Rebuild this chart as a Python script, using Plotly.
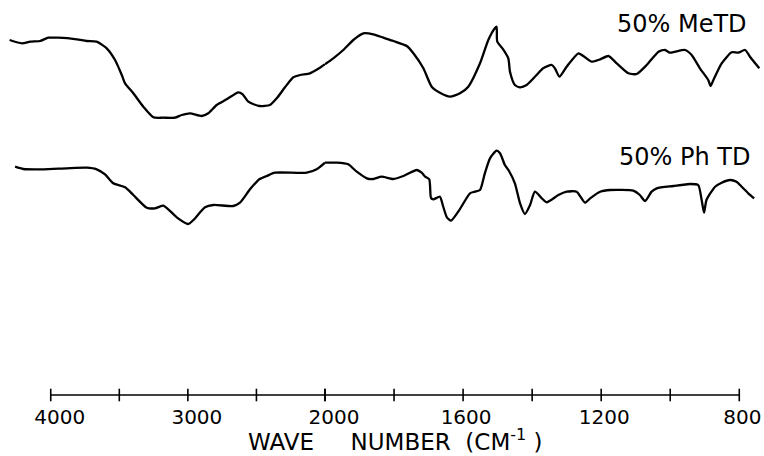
import plotly.graph_objects as go

# ---------------- data (wavenumber in cm^-1, relative transmittance, arbitrary units) ----------------
me_wn = [4300, 4210, 4150, 4078, 4017, 3945, 3810, 3738, 3665, 3592, 3531, 3482, 3458, 3398,
         3325, 3252, 3179, 3094, 3045, 2984, 2899, 2851, 2790, 2717, 2632, 2600, 2559, 2479,
         2401, 2352, 2292, 2231, 2182, 2110, 2037, 2000,
         1976, 1947, 1918, 1889, 1860, 1831, 1802, 1763, 1744, 1715, 1691, 1667, 1638, 1609,
         1585, 1551, 1527, 1508, 1503, 1501, 1484, 1469, 1464, 1450, 1435, 1416, 1387, 1368,
         1343, 1334, 1321, 1300, 1266, 1252, 1228, 1203, 1179, 1155, 1121, 1097, 1068, 1034,
         1015, 1001, 957, 938, 914, 890, 883, 875, 851, 822, 803, 783, 769, 742]
me_t = [355, 351.7, 353.3, 354, 357.3, 357.3, 355.7, 354, 353.3, 346.7, 335, 320, 311.7, 301.7,
        288.3, 277.7, 277.3, 277.3, 280, 281.7, 279, 281.7, 290, 295.7, 302.7, 300.7, 293.3, 289,
        290, 296.7, 307.7, 317.7, 320, 321.7, 327.3, 330.8,
        336.7, 345, 355, 361.7, 360.7, 357.3, 354, 349, 341.7, 326.7, 308.3, 302.3, 298.3, 301.7,
        308.3, 331.7, 355, 366.7, 368.3, 353.3, 345.7, 336.7, 323, 310, 307.7, 310, 320, 326.7,
        330, 326.7, 318.3, 328.3, 341.7, 339, 333.3, 335.7, 339, 331.7, 321.7, 321, 330, 343.3,
        345, 342.3, 345, 340, 326.7, 315, 309, 315, 331.7, 342.7, 342.3, 345, 338.3, 326.7]

ph_wn = [4260, 4200, 4054, 3883, 3738, 3665, 3604, 3544, 3458, 3398, 3300, 3240, 3179, 3143,
         3081, 2997, 2960, 2875, 2814, 2669, 2620, 2547, 2479, 2425, 2365, 2133, 2061, 2000,
         1966, 1933, 1908, 1879, 1860, 1836, 1802, 1773, 1734, 1720, 1710, 1698, 1693, 1686,
         1667, 1659, 1647, 1635, 1614, 1580, 1566, 1551, 1537, 1522, 1503, 1493, 1479, 1467,
         1450, 1435, 1421, 1406, 1392, 1372, 1358, 1324, 1300, 1271, 1247, 1232, 1203, 1174,
         1107, 1088, 1073, 1054, 1039, 991, 943, 919, 909, 902, 895, 870, 851, 827, 808, 793,
         774, 757]
ph_t = [228.3, 226, 225.7, 226.7, 227.3, 225.7, 220.7, 211.7, 207.7, 200, 187.3, 186.7, 189.3, 185.7,
        177.7, 171, 175, 187.7, 190, 189, 192.3, 205.7, 215.7, 219, 222.3, 222.3, 225.7, 232.3,
        232.3, 230.7, 223.3, 216.7, 216, 218.3, 216, 219, 225, 222.3, 218.3, 215.7, 197, 195.7,
        198.3, 190, 177.7, 174.3, 183.3, 201.7, 203.3, 205, 221.7, 236.7, 244.3, 241.7, 230, 224,
        211.7, 191.7, 181, 190, 203.3, 196.7, 192.7, 200, 203.3, 203.3, 192.3, 196.7, 203.3, 205,
        204.3, 200, 194, 203.3, 206.7, 209, 211, 210, 195, 182.3, 195, 208.3, 212.3, 215, 213.3, 208.3,
        201.7, 196.7]

major_ticks_left = [4000, 3000, 2000]
major_ticks_right = [1600, 1200, 800]
all_ticks_left = [4000, 3500, 3000, 2500, 2000]
all_ticks_right = [2000, 1800, 1600, 1400, 1200, 1000, 800]

series_labels = ["50% MeTD", "50% Ph TD"]
axis_title = "WAVE\u00a0\u00a0\u00a0\u00a0\u00a0NUMBER\u00a0\u00a0(CM<sup>-1</sup>\u00a0)"

# ---------------- figure ----------------
W, H = 764, 456
split = 325 / W
FONT = "DejaVu Sans"


def split_series(wn, t):
    left = [(w, v) for w, v in zip(wn, t) if w >= 2000]
    right = [(w, v) for w, v in zip(wn, t) if w <= 2000]
    return left, right


fig = go.Figure()
line_style = dict(color="black", width=2.3, shape="spline", smoothing=0.6)

for wn, t in [(me_wn, me_t), (ph_wn, ph_t)]:
    left, right = split_series(wn, t)
    fig.add_trace(go.Scatter(x=[p[0] for p in left], y=[p[1] for p in left], mode="lines",
                             line=line_style, xaxis="x", yaxis="y", showlegend=False,
                             hoverinfo="skip"))
    fig.add_trace(go.Scatter(x=[p[0] for p in right], y=[p[1] for p in right], mode="lines",
                             line=line_style, xaxis="x2", yaxis="y", showlegend=False,
                             hoverinfo="skip"))

# axis line with crossing tick marks
tick_marker = dict(symbol="line-ns", size=9, line=dict(color="black", width=1.6))
fig.add_trace(go.Scatter(x=all_ticks_left, y=[0] * len(all_ticks_left), mode="lines+markers",
                         line=dict(color="black", width=1.6), marker=tick_marker,
                         xaxis="x", yaxis="y", showlegend=False, hoverinfo="skip",
                         cliponaxis=False))
fig.add_trace(go.Scatter(x=all_ticks_right, y=[0] * len(all_ticks_right), mode="lines+markers",
                         line=dict(color="black", width=1.6), marker=tick_marker,
                         xaxis="x2", yaxis="y", showlegend=False, hoverinfo="skip",
                         cliponaxis=False))

xcommon = dict(showgrid=False, zeroline=False, showline=False, ticks="", automargin=False,
               tickfont=dict(family=FONT, size=20, color="black"), ticklabelstandoff=2)
fig.update_layout(
    width=W, height=H,
    margin=dict(l=0, r=0, t=0, b=55, autoexpand=False),
    paper_bgcolor="white", plot_bgcolor="white",
    xaxis=dict(domain=[0, split], range=[4370, 2000], tickvals=major_ticks_left,
               ticktext=[str(v) for v in major_ticks_left], anchor="y",
               ticklabelshift=-9, **xcommon),
    xaxis2=dict(domain=[split, 1], range=[2000, 728.4], tickvals=major_ticks_right,
                ticktext=[str(v) for v in major_ticks_right], anchor="y",
                ticklabelshift=-3, **xcommon),
    yaxis=dict(range=[-6, 395], visible=False, automargin=False),
    annotations=[
        dict(text=series_labels[0], x=749 / W, y=(401 - 24) / 401, xref="paper", yref="paper",
             xanchor="right", yanchor="middle", showarrow=False,
             font=dict(family=FONT, size=24, color="black")),
        dict(text=series_labels[1], x=752 / W, y=(401 - 157) / 401, xref="paper", yref="paper",
             xanchor="right", yanchor="middle", showarrow=False,
             font=dict(family=FONT, size=24, color="black")),
        dict(text=axis_title, x=395 / W, y=(401 - 440) / 401, xref="paper", yref="paper",
             xanchor="center", yanchor="middle", showarrow=False,
             font=dict(family=FONT, size=23, color="black")),
    ],
)

fig.write_html("out.html")
